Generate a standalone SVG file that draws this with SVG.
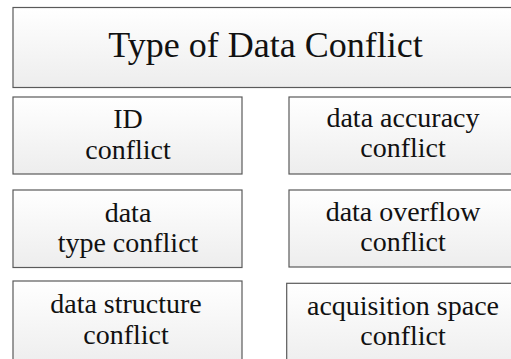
<svg xmlns="http://www.w3.org/2000/svg" width="511" height="359" viewBox="0 0 511 359">
<defs>
<linearGradient id="g" x1="0" y1="0" x2="0" y2="1">
<stop offset="0" stop-color="#ffffff"/>
<stop offset="1" stop-color="#ededed"/>
</linearGradient>
<style>
.box{fill:url(#g);stroke:#5a5a5a;stroke-width:1.2}
.t{fill:#111;text-anchor:middle}
.s{font-size:28px}
.h{font-size:36px}
</style>
</defs>
<rect width="511" height="359" fill="#ffffff"/>
<g font-family="Liberation Serif, Times New Roman, DejaVu Serif, serif">
<g id="title">
<rect class="box" x="13" y="7.5" width="506" height="80"/>
<text class="t h" x="265.5" y="57">Type of Data Conflict</text>
</g>
<g id="id-conflict">
<rect class="box" x="13" y="97" width="229" height="77"/>
<text class="t s" x="128" y="128">ID</text>
<text class="t s" x="128" y="159">conflict</text>
</g>
<g id="data-accuracy-conflict">
<rect class="box" x="289" y="97" width="229" height="77"/>
<text class="t s" x="403" y="127">data accuracy</text>
<text class="t s" x="403" y="157">conflict</text>
</g>
<g id="data-type-conflict">
<rect class="box" x="13" y="190" width="229" height="77.5"/>
<text class="t s" x="128" y="221.5">data</text>
<text class="t s" x="128" y="252">type conflict</text>
</g>
<g id="data-overflow-conflict">
<rect class="box" x="289" y="190" width="229" height="77"/>
<text class="t s" x="403" y="221">data overflow</text>
<text class="t s" x="403" y="251">conflict</text>
</g>
<g id="data-structure-conflict">
<rect class="box" x="13" y="281" width="229" height="85"/>
<text class="t s" x="126" y="313">data structure</text>
<text class="t s" x="126" y="344">conflict</text>
</g>
<g id="acquisition-space-conflict">
<rect class="box" x="286.7" y="283.3" width="232" height="85"/>
<text class="t s" x="403" y="315">acquisition space</text>
<text class="t s" x="403" y="345">conflict</text>
</g>
</g>
<g id="connectors"></g>
</svg>
